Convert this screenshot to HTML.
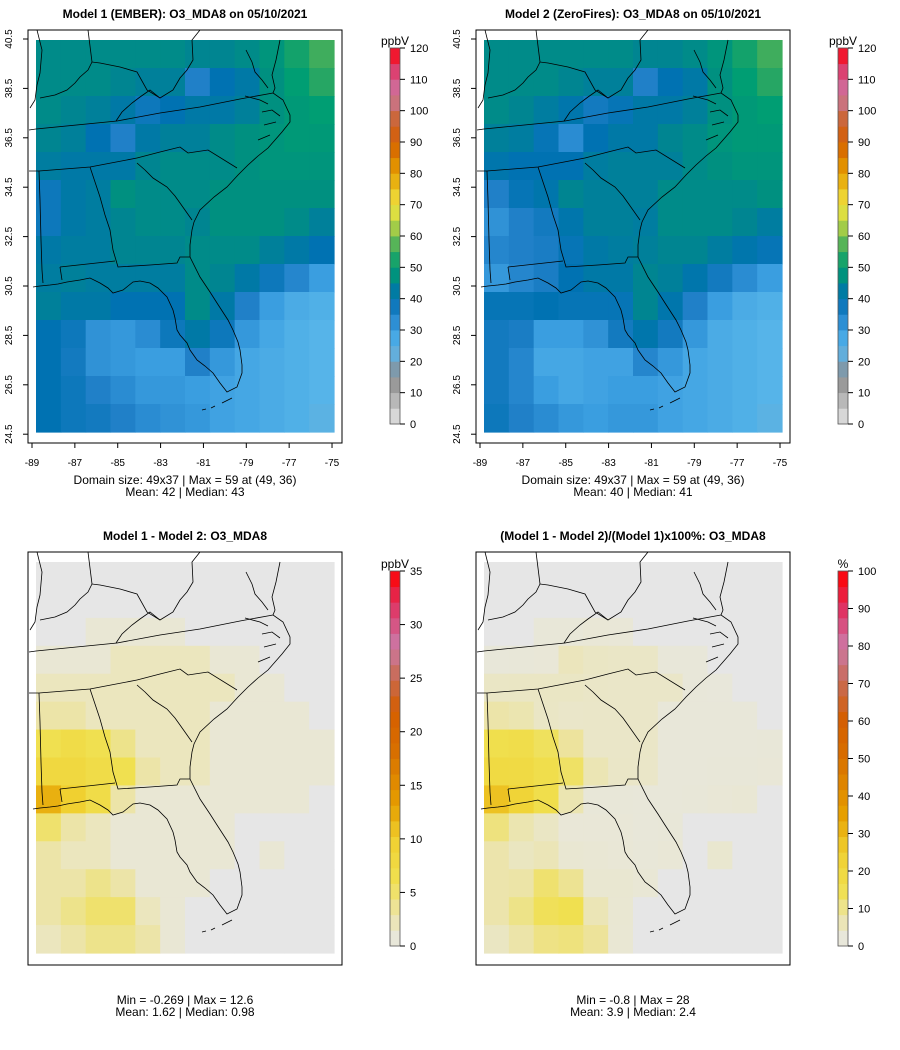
<!DOCTYPE html>
<html><head><meta charset="utf-8"><style>
body{margin:0;background:#fff;font-family:"Liberation Sans",sans-serif;}
svg text{font-family:"Liberation Sans",sans-serif;fill:#000;}
</style></head><body>
<svg id="fig" width="900" height="1045" viewBox="0 0 900 1045" xmlns="http://www.w3.org/2000/svg"></svg>
<script>
// 12 columns (west->east, -88.8..-75) x 14 rows (north->south, 40.5..24.5)
const model1 = [
[46,46,46,46,46,46,45,45,46,48,52,56],
[46,46,46,45,44,44,35,40,42,47,50,54],
[46,45,44,42,38,40,42,42,44,47,49,50],
[45,44,40,35,42,44,44,46,47,48,49,49],
[43,42,42,42,45,46,46,46,47,48,48,48],
[38,42,43,47,46,46,46,47,47,47,47,47],
[38,42,43,45,46,46,45,47,47,47,46,44],
[42,43,43,45,45,45,46,46,46,44,42,40],
[43,44,43,43,43,43,46,45,42,38,34,30],
[44,42,42,40,40,40,46,42,35,30,27,26],
[40,38,32,31,33,38,42,38,31,28,26,25],
[40,37,32,31,30,30,35,31,28,27,26,25],
[40,38,35,33,31,31,30,29,28,27,26,25],
[40,38,37,35,33,32,31,29,28,27,26,24]];
const diff = [
[0,0,0,0,0,0,0,0,0,0,0,0],
[0,0,0,0,0,0,0,0,0,0,0,0],
[0,0,1,1,1,1,0,0,0,0,0,0],
[1,1,1,2,2,2,2,1,1,0,0,0],
[2,2,2,2,2,2,2,2,1,1,0,0],
[3,3,2,2,2,2,2,1,1,1,1,0],
[6,7,6,4,2,2,2,1,1,1,1,1],
[8,8,7,6,3,2,2,1,1,1,1,1],
[12,10,7,3,1,1,1,1,1,1,1,0],
[5,3,2,1,1,1,1,1,0,0,0,0],
[3,2,2,1,1,1,1,1,0,1,0,0],
[3,3,4,3,1,1,1,0,0,0,0,0],
[3,4,5,5,2,1,0,0,0,0,0,0],
[2,3,4,4,3,1,0,0,0,0,0,0]];
const lonTicks = [-89,-87,-85,-83,-81,-79,-77,-75];
const latTicks = [24.5,26.5,28.5,30.5,32.5,34.5,36.5,38.5,40.5];
const ticksMain = [0,10,20,30,40,50,60,70,80,90,100,110,120];
const ticksDiff = [0,5,10,15,20,25,30,35];
const ticksPct = [0,10,20,30,40,50,60,70,80,90,100];

const NS="http://www.w3.org/2000/svg";
const svg=document.getElementById('fig');
function el(tag,attrs,parent){const e=document.createElementNS(NS,tag);for(const k in attrs)e.setAttribute(k,attrs[k]);(parent||svg).appendChild(e);return e;}
function hex(h){return [parseInt(h.substr(1,2),16),parseInt(h.substr(3,2),16),parseInt(h.substr(5,2),16)];}
function cmap(stops,v){
  if(v<=stops[0][0])return stops[0][1];
  for(let i=1;i<stops.length;i++){if(v<=stops[i][0]){const a=stops[i-1],b=stops[i];const t=(v-a[0])/(b[0]-a[0]);const A=hex(a[1]),B=hex(b[1]);return 'rgb('+A.map((x,j)=>Math.round(x+(B[j]-x)*t)).join(',')+')';}}
  return stops[stops.length-1][1];}
const stMain=[[0,'#e6e6e6'],[10,'#a8a8a8'],[15,'#8c8c8c'],[20,'#6fa8cc'],[25,'#56b4e9'],[30,'#3a9ee0'],[35,'#2080c8'],[40,'#0072b2'],[44,'#00809a'],[47,'#009080'],[50,'#009e73'],[55,'#30a860'],[60,'#7cc050'],[65,'#c8d840'],[70,'#f0e442'],[80,'#e6a000'],[90,'#d55e00'],[100,'#c86a50'],[105,'#cc79a7'],[115,'#e03060'],[120,'#ff0000']];
const stDiff=[[0,'#e6e6e6'],[1,'#e9e7d4'],[3,'#ece4a8'],[6,'#f0e050'],[10,'#f0d030'],[13,'#e6a000'],[18,'#d87000'],[22,'#d55e00'],[25,'#c86a50'],[28,'#cc79a7'],[32,'#e03060'],[35,'#ff0000']];
const stPct=[[0,'#e6e6e6'],[3,'#e9e7d4'],[8,'#ece4a8'],[15,'#f0e050'],[25,'#f0d030'],[35,'#e6a000'],[50,'#d87000'],[60,'#d55e00'],[70,'#c86a50'],[80,'#cc79a7'],[90,'#e03060'],[100,'#ff0000']];

// outlines in panel-1 pixel coords
const outlines=[
[[280,40],[276,60],[272,75],[275,88],[273,93],[283,100],[290,115],[290,122],[282,132],[275,140],[268,148],[258,156],[248,165],[238,175],[227,187],[214,197],[200,210],[194,222],[192,230],[190,245],[190,257],[200,277],[210,292],[217,303],[228,320],[233,330],[238,342],[240,350],[242,365],[242,373],[237,387],[227,392],[220,383],[213,373],[205,366],[197,360],[190,350],[187,343],[180,335],[177,330],[175,318],[173,310],[167,297],[158,288],[150,283],[140,281],[133,282],[128,286],[123,290],[113,293],[108,288],[100,283],[90,278],[80,280],[67,282],[58,284],[50,285],[40,286],[33,287]],
[[202,410],[206,409]],[[211,408],[215,406]],[[222,403],[232,398]],
[[29,130],[36,129],[117,121],[160,113],[200,107],[240,99],[273,93]],
[[29,171],[39,171],[90,167],[137,158]],
[[137,158],[160,152],[180,147],[188,153],[208,150],[237,168]],
[[137,163],[145,170],[153,178],[167,187],[175,196],[180,203],[192,220]],
[[90,167],[95,182],[100,197],[105,215],[110,230],[113,250],[118,267],[150,265],[177,263],[180,257],[190,257]],
[[60,267],[115,261]],[[60,267],[62,280]],
[[39,171],[40,200],[41,240],[42,270],[43,283]],
[[37,30],[42,50],[40,73],[37,85],[35,100],[30,108]],
[[40,98],[55,95],[67,90],[75,83],[80,77],[88,70],[92,62],[100,63],[120,67],[137,72],[147,90],[160,98],[173,90],[180,78],[187,70],[193,60],[192,40],[200,30]],
[[88,30],[92,62]],
[[116,121],[122,112],[132,103],[140,97],[150,90],[160,98]],
[[246,50],[252,62],[255,72],[262,80],[268,88]],[[245,96],[260,100],[268,104]],
[[262,112],[272,110],[280,116]],[[264,125],[276,122]],[[258,140],[270,135]]
];

function panel(px,py,grid,stops,opts){
  const g=el('g',{});
  
  
  const mx=px+8,my=py+10,mw=298,mh=opts.mh;
  const cw=mw/12,ch=mh/14;
  const cells=el('g',{},g);
  
  
  for(let r=0;r<grid.length;r++)for(let c=0;c<grid[r].length;c++){
    const rc=el('rect',{x:(mx+c*cw).toFixed(2),y:(my+r*ch).toFixed(2),width:(cw+0.6).toFixed(2),height:(ch+0.6).toFixed(2),fill:cmap(stops,grid[r][c])},cells);
    
    
  }
  const cid='clip'+px+'_'+py;
  const cp=el('clipPath',{id:cid},g);el('rect',{x:px,y:py,width:314,height:413},cp);
  const wrap=el('g',{'clip-path':'url(#'+cid+')'},g);
  const ol=el('g',{fill:'none',stroke:'#000','stroke-width':0.8,transform:'translate('+(px-28)+','+(py-30)+')'},wrap);
  
  
  outlines.forEach(l=>el('polyline',{points:l.map(p=>p.join(',')).join(' ')},ol));
  const box=el('rect',{x:px,y:py,width:314,height:413,fill:'none',stroke:'#000','stroke-width':1},g);
  
  
  const t=el('text',{x:px+157,y:py-12,'text-anchor':'middle','font-size':12,'font-weight':'bold'},g);
  t.textContent=opts.title;
  
  
  if(opts.axes){
    const xs=lon=>px+4+(lon+89)*21.43, ys=lat=>py+9+(40.5-lat)*24.7;
    const ax=el('g',{stroke:'#000','stroke-width':1},g);
    
    
    el('line',{x1:xs(-89),x2:xs(-75),y1:py+413,y2:py+413},ax);
    el('line',{x1:px,x2:px,y1:ys(40.5),y2:ys(24.5)},ax);
    lonTicks.forEach(l=>{el('line',{x1:xs(l),x2:xs(l),y1:py+413,y2:py+418},ax);
      const tx=el('text',{x:xs(l),y:py+436,'text-anchor':'middle','font-size':10,stroke:'none'},g);tx.textContent=l;
      });
    latTicks.forEach(l=>{el('line',{x1:px,x2:px-5,y1:ys(l),y2:ys(l)},ax);
      const tx=el('text',{x:px-16,y:ys(l),'text-anchor':'middle','font-size':10,transform:'rotate(-90 '+(px-16)+' '+ys(l)+')',stroke:'none'},g);tx.textContent=l.toFixed(1);
      });
  }
  opts.sub.forEach((s,i)=>{const tx=el('text',{x:px+157,y:opts.subY+i*12,'text-anchor':'middle','font-size':12},g);tx.textContent=s;
    });
  const cb=el('g',{},g);
  
  
  const bx=px+362,top=opts.cbTop,bot=opts.cbBot,tk=opts.ticks,vmax=tk[tk.length-1],n=24;
  const yv=v=>bot-(v/vmax)*(bot-top);
  for(let i=0;i<n;i++){const v0=vmax*i/n,v1=vmax*(i+1)/n;el('rect',{x:bx,y:yv(v1),width:10,height:yv(v0)-yv(v1)+0.4,fill:cmap(stops,(v0+v1)/2)},cb);}
  el('rect',{x:bx,y:top,width:10,height:bot-top,fill:'none',stroke:'#555','stroke-width':0.8},cb);
  tk.forEach(v=>{el('line',{x1:bx+10,x2:bx+15,y1:yv(v),y2:yv(v),stroke:'#000'},cb);
    const tx=el('text',{x:bx+20,y:yv(v)+4,'font-size':11},cb);tx.textContent=v;
    });
  const u=el('text',{x:bx+5,y:top-3,'text-anchor':'middle','font-size':12},cb);u.textContent=opts.unit;
  
}
const model2=model1.map((r,i)=>r.map((v,j)=>v-diff[i][j]));
const pct=model1.map((r,i)=>r.map((v,j)=>diff[i][j]/v*100));
panel(28,30,model1,stMain,{name:'panel-model1',mh:392,title:'Model 1 (EMBER): O3_MDA8 on 05/10/2021',axes:true,sub:['Domain size: 49x37 | Max = 59 at (49, 36)','Mean: 42 |  Median: 43'],subY:484,cbTop:48,cbBot:424,ticks:ticksMain,unit:'ppbV'});
panel(476,30,model2,stMain,{name:'panel-model2',mh:392,title:'Model 2 (ZeroFires): O3_MDA8 on 05/10/2021',axes:true,sub:['Domain size: 49x37 | Max = 59 at (49, 36)','Mean: 40 |  Median: 41'],subY:484,cbTop:48,cbBot:424,ticks:ticksMain,unit:'ppbV'});
panel(28,552,diff,stDiff,{name:'panel-difference',mh:391,title:'Model 1 - Model 2: O3_MDA8',axes:false,sub:['Min = -0.269 | Max = 12.6','Mean: 1.62 |  Median: 0.98'],subY:1004,cbTop:571,cbBot:946,ticks:ticksDiff,unit:'ppbV'});
panel(476,552,pct,stPct,{name:'panel-percent-difference',mh:391,title:'(Model 1 - Model 2)/(Model 1)x100%: O3_MDA8',axes:false,sub:['Min = -0.8 | Max = 28','Mean: 3.9 |  Median: 2.4'],subY:1004,cbTop:571,cbBot:946,ticks:ticksPct,unit:'%'});
</script>
</body></html>
